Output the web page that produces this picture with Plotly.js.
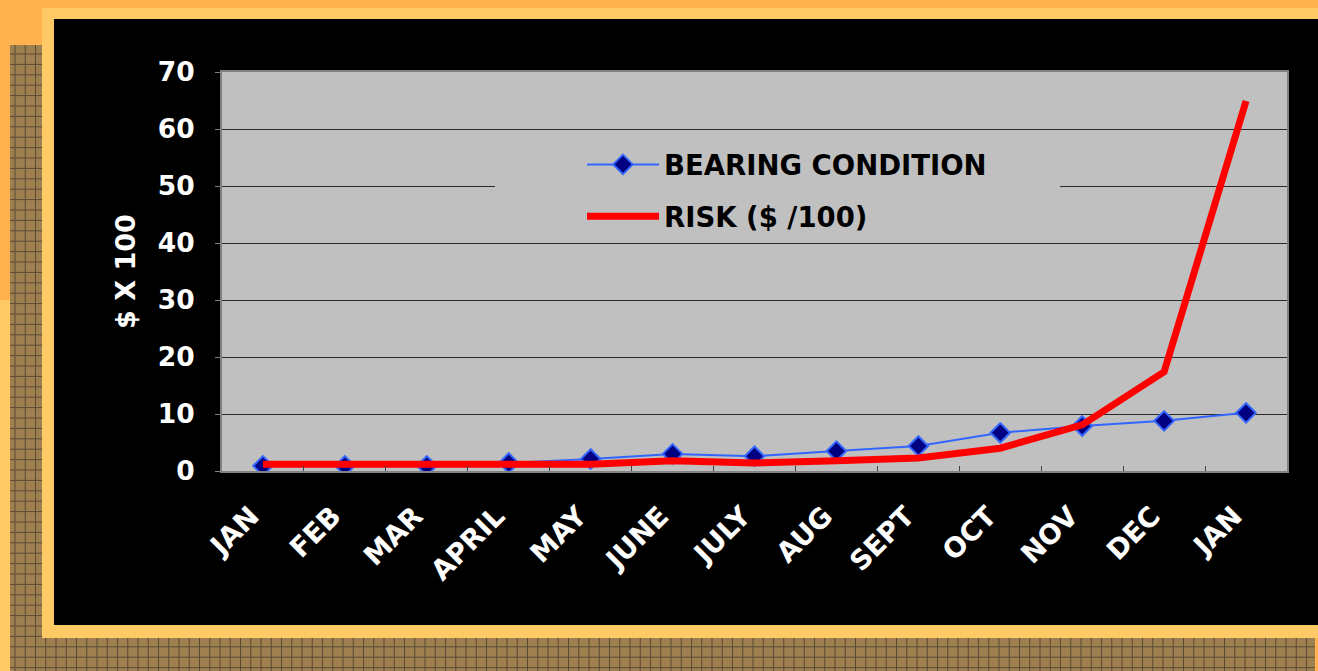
<!DOCTYPE html>
<html>
<head>
<meta charset="utf-8">
<script src="https://cdn.plot.ly/plotly-3.0.1.min.js"></script>
<style>html,body{margin:0;padding:0;background:#FFB24E;}#chart{width:1318px;height:671px;}</style>
</head>
<body>
<div id="chart"></div>
<script>
// ---- data ----
const months = ['JAN','FEB','MAR','APRIL','MAY','JUNE','JULY','AUG','SEPT','OCT','NOV','DEC','JAN'];
const bearingCondition = [0.9, 0.9, 0.9, 1.4, 2.1, 3.0, 2.6, 3.5, 4.4, 6.7, 7.9, 8.8, 10.2];
const risk = [1.2, 1.2, 1.2, 1.2, 1.2, 1.8, 1.4, 1.8, 2.3, 4.0, 8.1, 17.4, 64.9];
const yTicks = [0, 10, 20, 30, 40, 50, 60, 70];

// ---- layout geometry ----
const W = 1318, H = 671, ML = 222, MR = 31, MT = 72, MB = 200;
const PW = W - ML - MR, PH = H - MT - MB;
const px = x => (x - ML) / PW;
const py = y => (H - MB - y) / PH;
const rect = (x0, y0, x1, y1, fill, layer) => ({type:'rect', xref:'paper', yref:'paper',
  x0:px(x0), x1:px(x1), y0:py(y1), y1:py(y0), fillcolor:fill, line:{width:0}, layer:layer||'below'});
const seg = (x0, y0, x1, y1, color) => ({type:'line', xref:'paper', yref:'paper',
  x0:px(x0), x1:px(x1), y0:py(y0), y1:py(y1), line:{color:color, width:1}, layer:'below'});

const shapes = [];
shapes.push(rect(42, 8, 1318, 638, '#FFC965'));
shapes.push(rect(0, 300, 10, 671, '#FFC965'));
// textured pattern (left and bottom strips)
const brown = '#9E7F50', gline = '#5B4A37';
shapes.push(rect(10, 45, 42, 671, brown));
shapes.push(rect(10, 638, 1315, 671, brown));
for (let x = 15; x < 1315; x += 10.25) {
  if (x < 42) shapes.push(seg(x, 45, x, 671, gline));
  else shapes.push(seg(x, 638, x, 671, gline));
}
for (let y = 54; y < 671; y += 10.4) {
  if (y < 638) shapes.push(seg(10, y, 42, y, gline));
  else shapes.push(seg(10, y, 1315, y, gline));
}
// black panel and plot area
shapes.push(rect(54, 19, 1318, 625, '#000000'));
shapes.push(rect(ML, MT, W - MR, H - MB, '#C0C0C0'));
// legend backdrop
shapes.push(rect(495, 138, 1060, 240, '#C0C0C0', 'above'));

const fam = 'DejaVu Sans, Verdana, sans-serif';
const idx = months.map((m, i) => i);
const bounds = months.slice(1).map((m, i) => i + 0.5);

const traces = [
  {x: idx, y: bearingCondition, name: 'BEARING CONDITION', type: 'scatter', mode: 'lines+markers',
   legendgroup: 'a',
   line: {color: '#3366FF', width: 2},
   marker: {symbol: 'diamond', size: 15, color: '#000080', line: {color: '#3366FF', width: 2}}},
  {x: idx, y: risk, name: 'RISK ($ /100)', type: 'scatter', mode: 'lines', xaxis: 'x2',
   legendgroup: 'b',
   line: {color: '#FF0000', width: 7}}
];

const layout = {
  width: W, height: H,
  margin: {l: ML, r: MR, t: MT, b: MB, pad: 0},
  paper_bgcolor: '#FFB24E',
  plot_bgcolor: '#C0C0C0',
  font: {family: fam, size: 26, weight: 'bold'},
  showlegend: true,
  legend: {x: px(582), xanchor: 'left', y: py(140), yanchor: 'top',
    bgcolor: 'rgba(0,0,0,0)', borderwidth: 0, font: {family: fam, size: 27.5, weight: 'bold', color: '#000000'},
    itemwidth: 72, tracegroupgap: 13, traceorder: 'grouped'},
  xaxis: {range: [-0.5, months.length - 0.5], tickmode: 'array', tickvals: idx, ticktext: months,
    tickangle: -45, ticks: '', showgrid: false, zeroline: false,
    showline: true, linecolor: '#808080', linewidth: 2, mirror: true,
    ticklabelstandoff: 16, ticklabelshift: -12,
    tickfont: {family: fam, size: 27.5, weight: 'bold', color: '#FFFFFF'}},
  xaxis2: {range: [-0.5, months.length - 0.5], overlaying: 'x', anchor: 'y', tickmode: 'array',
    tickvals: bounds, ticks: 'inside', ticklen: 5, tickcolor: '#404040', showticklabels: false,
    showgrid: false, zeroline: false, showline: false},
  yaxis: {range: [0, 70], tickmode: 'array', tickvals: yTicks, showgrid: true, gridcolor: '#2A2A2A', gridwidth: 1,
    zeroline: false, showline: true, linecolor: '#808080', linewidth: 2, mirror: true,
    ticks: 'outside', ticklen: 5, tickcolor: '#808080', ticklabelstandoff: 15,
    tickfont: {family: fam, size: 26.5, weight: 'bold', color: '#FFFFFF'},
    title: {text: '$ X 100', standoff: 14, font: {family: fam, size: 27, weight: 'bold', color: '#FFFFFF'}}},
  shapes: shapes
};

Plotly.newPlot('chart', traces, layout, {displayModeBar: false, staticPlot: true});
</script>
</body>
</html>
